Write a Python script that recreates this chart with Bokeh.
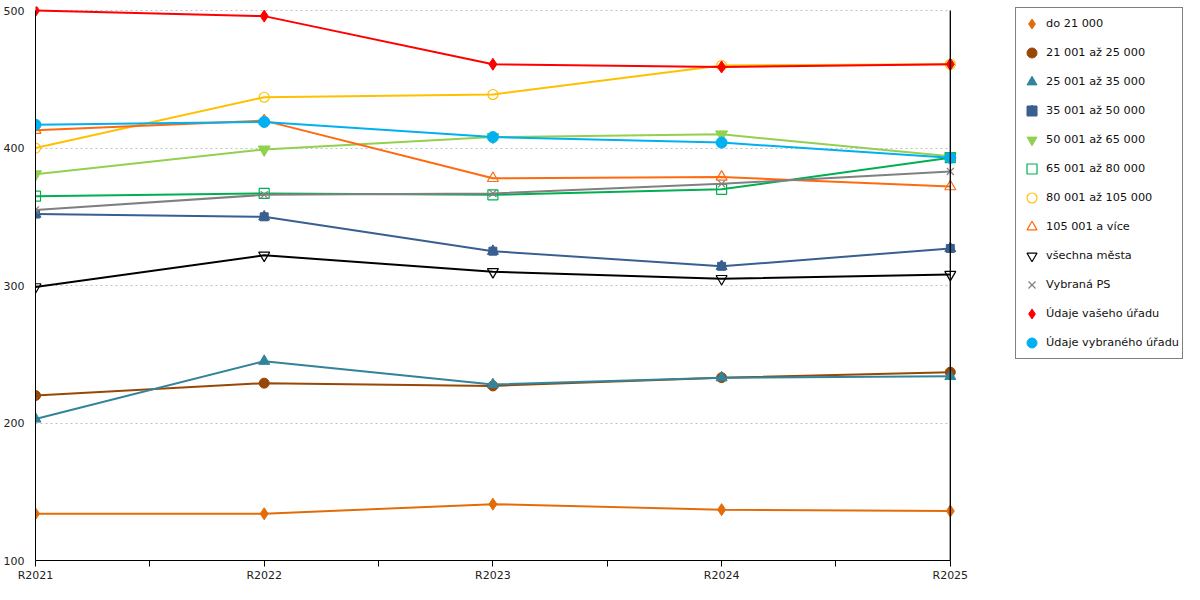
from bokeh.plotting import figure
from bokeh.models import Legend, LegendItem, FixedTicker, BoxAnnotation, Range1d
from bokeh.embed import file_html
from bokeh.resources import INLINE

years = ["R2021", "R2022", "R2023", "R2024", "R2025"]
do21 = [134, 134, 141, 137, 136]
s21_25 = [220, 229, 227, 233, 237]
s25_35 = [203, 245, 228, 233, 234]
s35_50 = [352, 350, 325, 314, 327]
s50_65 = [381, 399, 408, 410, 394]
s65_80 = [365, 367, 366, 370, 393]
s80_105 = [400, 437, 439, 460, 461]
s105 = [413, 420, 378, 379, 372]
vsechna = [299, 322, 310, 305, 308]
vybrana_ps = [355, 366, 367, 374, 383]
vas_urad = [500, 496, 461, 459, 461]
vybr_urad = [417, 419, 408, 404, 393]
y_ticks = [100, 200, 300, 400, 500]

names = ["do 21 000", "21 001 až 25 000", "25 001 až 35 000", "35 001 až 50 000",
         "50 001 až 65 000", "65 001 až 80 000", "80 001 až 105 000", "105 001 a více",
         "všechna města", "Vybraná PS", "Údaje vašeho úřadu", "Údaje vybraného úřadu"]
series = [do21, s21_25, s25_35, s35_50, s50_65, s65_80, s80_105, s105,
          vsechna, vybrana_ps, vas_urad, vybr_urad]
colors = ["#e36c09", "#974806", "#31849b", "#385f8f", "#92d050", "#00b050",
          "#ffc000", "#ff6a10", "#000000", "#808080", "#ff0000", "#00b0f0"]
# (marker, size, filled)
markers = [("diamond", 12, True), ("circle", 10, True), ("triangle", 11, True),
           ("house", 10, True), ("inverted_triangle", 12, True), ("square", 10, False),
           ("circle", 10, False), ("triangle", 11, False), ("inverted_triangle", 11, False),
           ("x", 10, False), ("diamond", 12, True), ("circle", 11, True)]

x = list(range(len(years)))
xmax = len(years) - 1
ymin, ymax = y_ticks[0], y_ticks[-1]

p = figure(width=1184, height=584, output_backend="svg", toolbar_location=None,
           x_range=Range1d(0, xmax * 1.256), y_range=Range1d(ymin, ymax + 3),
           min_border_top=6, min_border_left=0, min_border_right=0, min_border_bottom=0)
p.outline_line_color = None
p.background_fill_color = "white"

items = []
for name, ys, col, (mk, sz, filled) in zip(names, series, colors, markers):
    p.line(x, ys, line_color=col, line_width=2)
    rs = []
    if mk == "house":
        rs.append(p.scatter(x, ys, marker="triangle", size=11, fill_color=col, line_color=col))
        rs.append(p.scatter(x, ys, marker="square", size=8, fill_color=col, line_color=col))
    elif filled:
        rs.append(p.scatter(x, ys, marker=mk, size=sz, fill_color=col, line_color=col))
    else:
        rs.append(p.scatter(x, ys, marker=mk, size=sz, fill_color=None, line_color=col, line_width=1.2))
    items.append(LegendItem(label=name, renderers=rs))

# x axis
ticks = [i * 0.5 for i in range(2 * xmax + 1)]
p.xaxis.ticker = FixedTicker(ticks=ticks)
overrides = {}
for t in ticks:
    overrides[t] = years[int(t)] if float(t).is_integer() else ""
p.xaxis.major_label_overrides = overrides
p.xaxis.bounds = (0, xmax)
p.xaxis.minor_tick_line_color = None
p.xaxis.major_tick_out = 6
p.xaxis.major_tick_in = 0
p.xaxis.major_label_standoff = 2
p.xaxis.axis_line_color = "black"
p.xaxis.major_tick_line_color = "black"

# y axis
p.yaxis.ticker = FixedTicker(ticks=y_ticks)
p.yaxis.bounds = (ymin, ymax)
p.yaxis.minor_tick_line_color = None
p.yaxis.major_tick_line_color = None
p.yaxis.major_tick_out = 6
p.yaxis.major_tick_in = 0
p.yaxis.major_label_standoff = 5
p.yaxis.axis_line_color = "black"

for ax in (p.xaxis, p.yaxis):
    ax.major_label_text_font = "DejaVu Sans"
    ax.major_label_text_font_size = "11px"
    ax.major_label_text_color = "#222222"

p.xgrid.grid_line_color = None
p.ygrid.grid_line_color = "#c0c0c0"
p.ygrid.grid_line_dash = "2 3"
p.ygrid.grid_line_width = 1
try:
    p.ygrid.cross_bounds = (0, xmax)
except Exception:
    pass

p.add_layout(BoxAnnotation(left=xmax, right=xmax, bottom=ymin, top=ymax,
                           fill_color=None, fill_alpha=0, line_color="black",
                           line_alpha=1, line_width=1))

legend = Legend(items=items, location="top_right")
legend.label_text_font = "DejaVu Sans"
legend.label_text_font_size = "11.3px"
legend.label_text_color = "#111111"
legend.glyph_width = 25
legend.glyph_height = 25
legend.label_height = 25
legend.spacing = 4
legend.padding = 3
legend.label_standoff = 2
legend.border_line_color = "black"
legend.border_line_width = 1
legend.background_fill_color = "white"
legend.background_fill_alpha = 1
legend.margin = 1
p.add_layout(legend)

open("out.html", "w").write(file_html(p, INLINE))
